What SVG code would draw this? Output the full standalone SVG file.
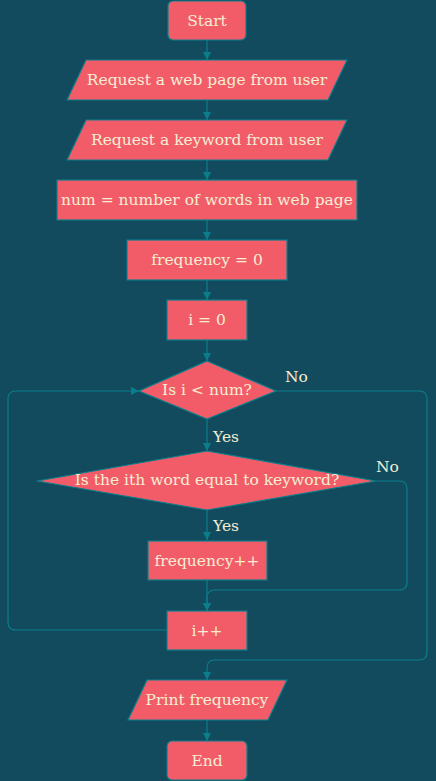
<svg xmlns="http://www.w3.org/2000/svg" width="436" height="781" viewBox="0 0 436 781">
<style>
.n{fill:#f25c69;stroke:#0b7e8b;stroke-width:1.2}
.t{font-family:"DejaVu Serif","Liberation Serif",serif;font-size:15.5px;fill:#f5eed3;text-anchor:middle;dominant-baseline:central}
.l{font-family:"DejaVu Serif","Liberation Serif",serif;font-size:15.5px;fill:#f5eed3}
.c{fill:none;stroke:#0b7e8b;stroke-width:1.2}
</style>
<defs>
<marker id="a" viewBox="0 0 10 10" refX="10" refY="5" markerWidth="8" markerHeight="8" markerUnits="userSpaceOnUse" orient="auto">
<path d="M0,0 L10,5 L0,10 z" fill="#0b7e8b"/>
</marker>
</defs>
<rect width="436" height="781" fill="#124b5e"/>
<g id="connectors">
<path class="c" d="M207,40 V60" marker-end="url(#a)"/>
<path class="c" d="M207,100 V120" marker-end="url(#a)"/>
<path class="c" d="M207,160 V180" marker-end="url(#a)"/>
<path class="c" d="M207,220 V240" marker-end="url(#a)"/>
<path class="c" d="M207,280 V300" marker-end="url(#a)"/>
<path class="c" d="M207,340 V361" marker-end="url(#a)"/>
<path class="c" d="M207,419 V451" marker-end="url(#a)"/>
<path class="c" d="M207,510 V540" marker-end="url(#a)"/>
<path class="c" d="M207,580 V611" marker-end="url(#a)"/>
<path class="c" d="M207,720 V741" marker-end="url(#a)"/>
<path class="c" d="M167,630 H16 Q8,630 8,622 V399 Q8,391 16,391 H139" marker-end="url(#a)"/>
<path class="c" d="M276,391 H419 Q427,391 427,399 V652 Q427,660 419,660 H215 Q207,660 207,668 V680" marker-end="url(#a)"/>
<path class="c" d="M376,481 H399 Q407,481 407,489 V582 Q407,590 399,590 H215 Q207,590 207,598 V611" marker-end="url(#a)"/>
<text class="l" x="285" y="382">No</text>
<text class="l" x="213" y="442">Yes</text>
<text class="l" x="376" y="472">No</text>
<text class="l" x="213" y="531">Yes</text>
</g>
<g id="start"><rect class="n" x="168" y="1" width="78" height="39" rx="5"/><text class="t" x="207" y="20.5">Start</text></g>
<g id="req-page"><polygon class="n" points="86,60 347,60 328,100 67,100"/><text class="t" x="207" y="80">Request a web page from user</text></g>
<g id="req-key"><polygon class="n" points="86,120 347,120 328,160 67,160"/><text class="t" x="207" y="140">Request a keyword from user</text></g>
<g id="num"><rect class="n" x="57" y="180" width="300" height="40"/><text class="t" x="207" y="200">num = number of words in web page</text></g>
<g id="freq0"><rect class="n" x="127" y="240" width="160" height="40"/><text class="t" x="207" y="260">frequency = 0</text></g>
<g id="i0"><rect class="n" x="167" y="300" width="80" height="40"/><text class="t" x="207" y="320">i = 0</text></g>
<g id="cond1"><polygon class="n" points="207,361 276,391 207,419 139,391"/><text class="t" x="207" y="390">Is i &lt; num?</text></g>
<g id="cond2"><polygon class="n" points="207,451 376,481 207,510 37,481"/><text class="t" x="207" y="480">Is the ith word equal to keyword?</text></g>
<g id="freqinc"><rect class="n" x="148" y="541" width="119" height="39"/><text class="t" x="207" y="560.5">frequency++</text></g>
<g id="iinc"><rect class="n" x="167" y="611" width="80" height="39"/><text class="t" x="207" y="630.5">i++</text></g>
<g id="print"><polygon class="n" points="147,680 287,680 268,720 128,720"/><text class="t" x="207" y="700">Print frequency</text></g>
<g id="end"><rect class="n" x="167" y="741" width="80" height="39" rx="5"/><text class="t" x="207" y="760.5">End</text></g>
</svg>
